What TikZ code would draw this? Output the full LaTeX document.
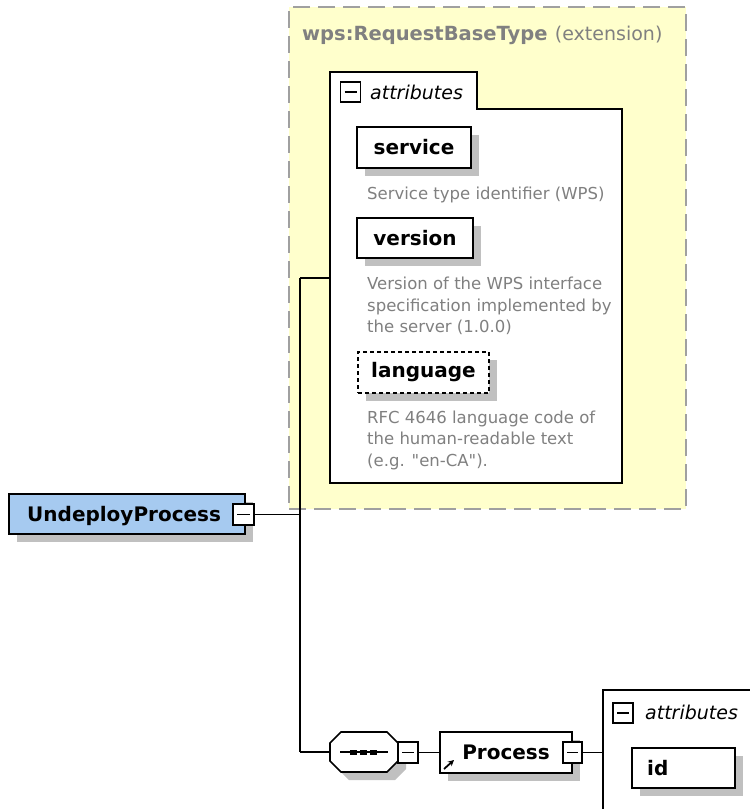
\documentclass[tikz,border=0pt]{standalone}
\usepackage{fontspec}
\setmainfont{DejaVu Sans}
\newfontfamily\descfont{DejaVu Sans}[Ligatures=TeXOff]
\usetikzlibrary{arrows.meta}
\definecolor{extyellow}{RGB}{255,255,204}
\definecolor{dashgray}{RGB}{160,160,160}
\definecolor{titlegray}{RGB}{128,128,128}
\definecolor{descgray}{RGB}{128,128,128}
\definecolor{shadowgray}{RGB}{192,192,192}
\definecolor{elblue}{RGB}{166,202,240}
\begin{document}
\begin{tikzpicture}[x=1pt,y=-1pt,
  namefont/.style={font=\bfseries\fontsize{20}{23}\selectfont},
  elbox/.style={draw=black, line width=1.6pt, fill=white, inner sep=0pt, namefont},
  shade/.style={fill=shadowgray, draw=none},
  desc/.style={text=descgray, font=\descfont\fontsize{16.5}{21.5}\selectfont, align=left, inner sep=0pt, anchor=north west},
  attrtext/.style={font=\itshape\fontsize{19}{22}\selectfont, inner sep=0pt, anchor=base west},
  minusbox/.style={draw=black, fill=white, line width=1.3pt, minimum width=20pt, minimum height=20pt, inner sep=0pt,
    path picture={\draw[line width=1.5pt] ([xshift=4pt]path picture bounding box.west) -- ([xshift=-4pt]path picture bounding box.east);}},
  conn/.style={draw=black, line width=1.6pt},
  panel/.style={draw=black, line width=1.8pt, fill=white}
]
\useasboundingbox (0,0) rectangle (750,809);

% extension area
\node[draw=dashgray, line width=2pt, dash pattern=on 17pt off 8pt, fill=extyellow,
      minimum width=397pt, minimum height=502pt, inner sep=0pt, anchor=north west] (ext) at (288,6) {};
\node[anchor=base west, inner sep=0pt, text=titlegray, font=\bfseries\fontsize{19.5}{23}\selectfont] (exttitle) at (302,40) {wps:RequestBaseType};
\node[anchor=base west, inner sep=0pt, text=titlegray, font=\fontsize{19}{23}\selectfont] (extnote) at ([xshift=7pt]exttitle.base east) {(extension)};

% attributes panel (top)
\path[panel] (330,483) -- (330,72) -- (477,72) -- (477,109) -- (622,109) -- (622,483) -- cycle;
\node[inner sep=0pt, minimum width=292pt, minimum height=374pt, anchor=north west] (attrbody) at (330,109) {};
\node[minusbox] (attrmin) at (350.5,92) {};
\node[attrtext] (attrlbl) at (370,99) {attributes};

% service
\fill[shade] (365,135) rectangle (479,176);
\node[elbox, minimum width=114pt, minimum height=41pt] (service) at (414,147.5) {service};
\node[desc] (servicedesc) at (367,186.5) {Service type identifier (WPS)};

% version
\fill[shade] (365,226) rectangle (481,266);
\node[elbox, minimum width=116pt, minimum height=40pt] (version) at (415,238) {version};
\node[desc] (versiondesc) at (367,277) {Version of the WPS interface\\specification implemented by\\the server (1.0.0)};

% language
\fill[shade] (366,360) rectangle (497,401);
\node[elbox, dash pattern=on 4pt off 3pt, minimum width=131pt, minimum height=41pt] (language) at (423.5,372.5) {language};
\node[desc] (languagedesc) at (367,410.5) {RFC 4646 language code of\\the human-readable text\\(e.g. "en-CA").};

% UndeployProcess
\fill[shade] (17,502) rectangle (253,542);
\node[elbox, fill=elblue, minimum width=236pt, minimum height=40pt] (und) at (127,514) {};
\node[anchor=base west, inner sep=0pt, namefont] (undtext) at (27,521) {UndeployProcess};
\node[minusbox, minimum width=21pt, minimum height=21pt] (undmin) at (243.5,514.5) {};

% sequence compositor
\node[inner sep=0pt, minimum width=68pt, minimum height=40pt] (seq) at (364,752) {};
\fill[shade] (338,751) -- (349,740) -- (395,740) -- (406,751) -- (406,769) -- (395,780) -- (349,780) -- (338,769) -- cycle;
\draw[line width=1.6pt, fill=white] (330,743) -- (341,732) -- (387,732) -- (398,743) -- (398,761) -- (387,772) -- (341,772) -- (330,761) -- cycle;
\draw[line width=1.3pt] (340,752) -- (388,752);
\foreach \dx in {350,360,370}{\fill (\dx,749.5) rectangle (\dx+7,754.5);}
\node[minusbox, minimum width=20pt, minimum height=21pt] (seqmin) at (408,752.5) {};

% Process
\fill[shade] (448,740) rectangle (580,781);
\node[elbox, minimum width=132pt, minimum height=41pt] (process) at (506,752.5) {Process};
\draw[line width=1.8pt, -{Stealth[length=6pt,width=6pt]}] (444,769) -- (454,760);
\node[minusbox, minimum width=19pt, minimum height=21pt] (procmin) at (572.5,752.5) {};

% attributes panel (bottom)
\path[panel] (603,812) -- (603,690) -- (755,690) -- (755,812) -- cycle;
\node[inner sep=0pt, minimum width=150pt, minimum height=120pt, anchor=north west] (attrbody2) at (603,690) {};
\node[minusbox] (attrmin2) at (623,713) {};
\node[attrtext] (attrlbl2) at (645,719) {attributes};
\fill[shade] (640,756) rectangle (743,796);
\node[elbox, minimum width=103pt, minimum height=40pt] (idbox) at (683.5,768) {};
\node[anchor=base west, inner sep=0pt, namefont] (idtext) at (647,775) {id};

% connectors
\coordinate (jtop) at (300,278);
\coordinate (jbot) at (300,752);
\draw[conn] (undmin.east) -- (undmin.east -| jtop);
\draw[conn] (jtop) -- (jbot);
\draw[conn] (jtop) -- (jtop -| attrbody.west);
\draw[conn] (jbot) -- (330,752);
\draw[conn] (seqmin.east) -- (process.west);
\draw[conn] (procmin.east) -- (procmin.east -| attrbody2.west);
\end{tikzpicture}
\end{document}
